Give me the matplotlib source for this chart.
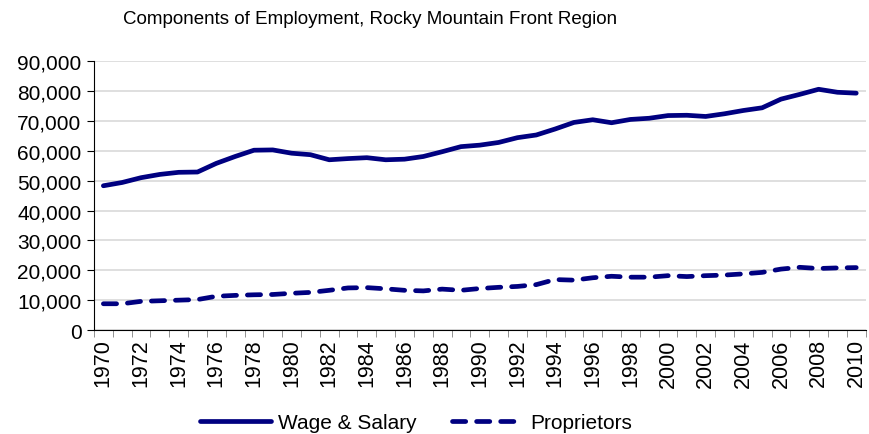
import matplotlib
matplotlib.use("Agg")
import matplotlib.pyplot as plt
from matplotlib.ticker import FuncFormatter

plt.rcParams['font.family'] = ['Liberation Sans', 'DejaVu Sans']

years = list(range(1970, 2011))
wage_salary = [48300, 49400, 51000, 52100, 52800, 52900, 55800, 58100, 60200, 60300,
               59200, 58700, 57000, 57400, 57700, 57000, 57200, 58100, 59700, 61400,
               61900, 62800, 64400, 65300, 67300, 69500, 70400, 69400, 70500, 70900,
               71800, 71900, 71500, 72400, 73500, 74400, 77300, 78900, 80600, 79600,
               79300]
proprietors = [8800, 8800, 9600, 9800, 10000, 10200, 11300, 11600, 11800, 11900,
               12300, 12600, 13300, 14100, 14200, 13800, 13300, 13100, 13700, 13300,
               13900, 14300, 14600, 15200, 16900, 16700, 17500, 18000, 17700, 17700,
               18200, 17900, 18200, 18400, 18800, 19300, 20400, 21000, 20600, 20800,
               20900]

navy = '#000080'
x = list(range(len(years)))

fig = plt.figure(figsize=(8.7, 4.35), dpi=100)
ax = fig.add_axes([0.108, 0.239, 0.887, 0.618])

ax.plot(x, wage_salary, color=navy, lw=3.4, solid_capstyle='round',
        solid_joinstyle='round', label='Wage & Salary')
ax.plot(x, proprietors, color=navy, lw=3.4, dashes=(2.8, 2.3),
        dash_capstyle='round', label='Proprietors')

ax.set_ylim(0, 90000)
ax.set_yticks(range(0, 90001, 10000))
ax.yaxis.set_major_formatter(FuncFormatter(lambda v, p: f'{int(v):,}'))
ax.grid(axis='y', color='#d9d9d9', lw=1.2)
ax.set_axisbelow(True)

# category axis: tick marks between years, labels on even years
ax.set_xlim(-0.5, len(years) - 0.5)
ax.set_xticks([i - 0.5 for i in range(len(years) + 1)], minor=True)
ax.set_xticks(x[::2])
ax.set_xticklabels([str(y) for y in years[::2]], rotation=90)
ax.tick_params(axis='x', which='major', length=0, pad=6, labelsize=15.5)
ax.tick_params(axis='x', which='minor', length=5, color='#808080')
ax.tick_params(axis='y', length=5, labelsize=15, pad=4)

for s in ['top', 'right']:
    ax.spines[s].set_visible(False)
ax.spines['left'].set_color('black')
ax.spines['bottom'].set_color('black')

fig.text(0.425, 0.955, 'Components of Employment, Rocky Mountain Front Region',
         ha='center', va='center', fontsize=13.5)

fig.legend(loc='center', bbox_to_anchor=(0.478, 0.026), ncol=2, frameon=False,
           fontsize=15, handlelength=3.4, handletextpad=0.35, columnspacing=1.7)

fig.savefig('out.png', dpi=100)
